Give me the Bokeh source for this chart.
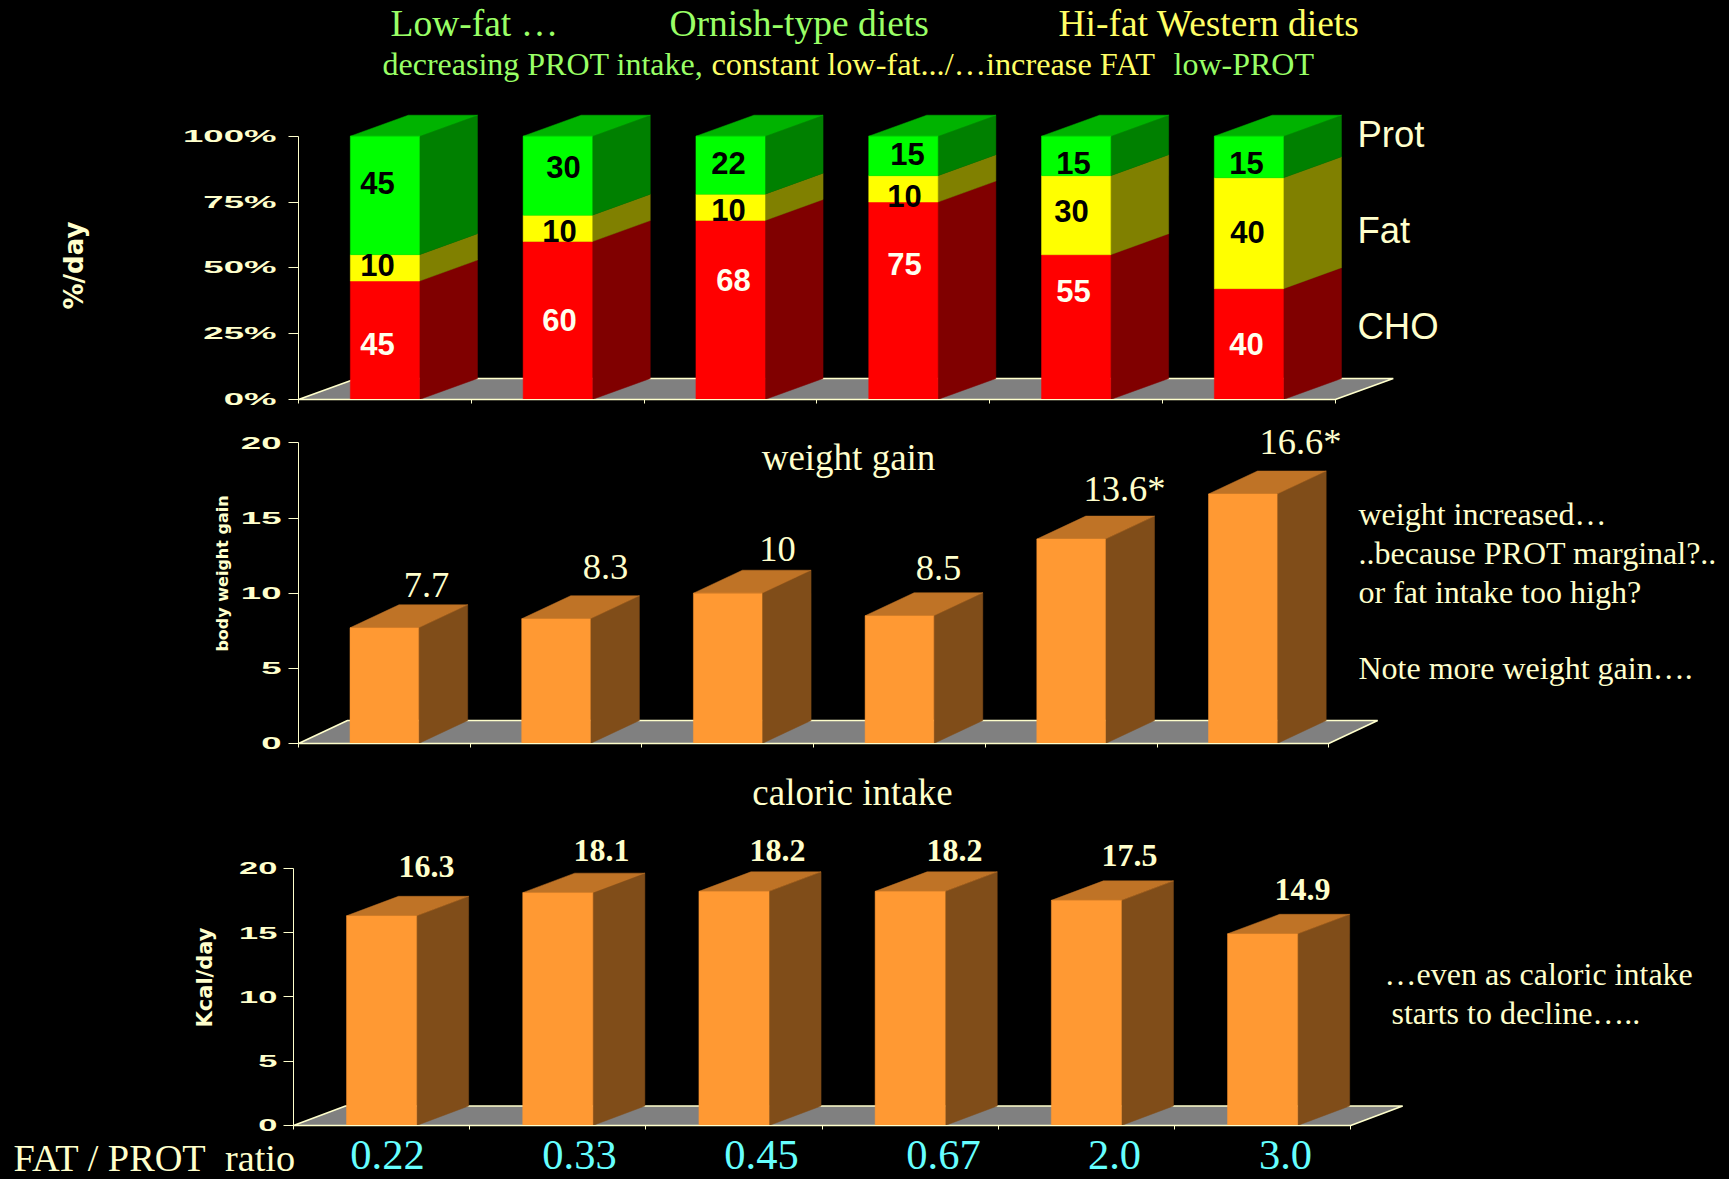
import re
from math import pi

from bokeh.document import Document
from bokeh.embed import file_html
from bokeh.layouts import column
from bokeh.models import CustomJS, FixedTicker, Label, Range1d
from bokeh.plotting import figure
from bokeh.resources import INLINE

# Diet composition, % of energy
cho = [45, 60, 68, 75, 55, 40]
fat = [10, 10, 10, 10, 30, 40]
prot = [45, 30, 22, 15, 15, 15]

# Outcomes per diet group
weight_gain = [7.7, 8.3, 10, 8.5, 13.6, 16.6]
weight_notes = ["7.7", "8.3", "10", "8.5", "13.6*", "16.6*"]
caloric_intake = [16.3, 18.1, 18.2, 18.2, 17.5, 14.9]
caloric_notes = ["16.3", "18.1", "18.2", "18.2", "17.5", "14.9"]

ratio_labels = ["0.22", "0.33", "0.45", "0.67", "2.0", "3.0"]
percent_ticks = [0, 25, 50, 75, 100]
count_ticks = [0, 5, 10, 15, 20]

PAGE_W = 1729
CREAM = "#ffffcc"
GREEN_TEXT = "#99ff66"
YELLOW_TEXT = "#ffff66"
CYAN = "#66ffff"
FLOOR = "#808080"
ORANGE = ("#ff9933", "#804d19", "#bf7326")
RED = ("#ff0000", "#800000", "#bf0000")
YELLOW = ("#ffff00", "#808000", "#bfbf00")
GREEN = ("#00ff00", "#008000", "#00b300")
SERIF = "Liberation Serif"
SANS = "Liberation Sans"
WIDE = "DejaVu Sans"


class Panel:
    """One chart row: a 3-D look column chart sharing the page's pixel grid.

    The plotting frame fills the whole figure, and the axes sit inside it at
    data zero, so that texts anywhere in the row stay visible.
    """

    def __init__(self, top, height, left, baseline, slot_px, unit_px, y_ticks,
                 depth_x, depth_y, bar_width, overrides=None, tick_size=17,
                 standoff=10):
        self.bottom = top + height
        self.dx = depth_x / slot_px
        self.dy = depth_y / unit_px
        self.bar_width = bar_width
        p = figure(
            width=PAGE_W, height=height, output_backend="svg", toolbar_location=None,
            x_range=Range1d(-left / slot_px, (PAGE_W - left) / slot_px),
            y_range=Range1d((baseline - self.bottom) / unit_px, (baseline - top) / unit_px),
            background_fill_color=None, border_fill_color=None,
            min_border_left=0, min_border_right=0, min_border_top=0, min_border_bottom=0,
            styles={"background-color": "#000000"},
        )
        p.outline_line_color = None
        p.grid.visible = False
        ax = p.yaxis[0]
        ax.fixed_location = 0
        ax.ticker = FixedTicker(ticks=y_ticks)
        ax.bounds = (y_ticks[0], y_ticks[-1])
        ax.axis_line_color = CREAM
        ax.major_tick_line_color = CREAM
        ax.minor_tick_line_color = None
        ax.major_tick_in = 0
        ax.major_tick_out = 10
        ax.major_label_standoff = standoff
        ax.major_label_text_color = CREAM
        ax.major_label_text_font = SANS
        ax.major_label_text_font_style = "bold"
        ax.major_label_text_font_size = f"{tick_size}px"
        if overrides:
            ax.major_label_overrides = overrides
        bx = p.xaxis[0]
        bx.fixed_location = 0
        bx.ticker = FixedTicker(ticks=list(range(7)))
        bx.bounds = (0, 6)
        bx.axis_line_color = CREAM
        bx.major_tick_line_color = CREAM
        bx.minor_tick_line_color = None
        bx.major_tick_in = 0
        bx.major_tick_out = 4
        bx.major_label_overrides = {t: "" for t in range(7)}
        self.p = p
        self.floor()

    def floor(self):
        xs = [0, 6, 6 + self.dx, self.dx]
        ys = [0, 0, self.dy, self.dy]
        self.p.patch(xs, ys, fill_color=FLOOR, line_color=CREAM, line_width=1.5)

    def segment(self, i, low, high, palette, is_top):
        x0 = i + 0.5 - self.bar_width / 2
        x1 = i + 0.5 + self.bar_width / 2
        front, side, lid = palette
        self.p.patch([x1, x1 + self.dx, x1 + self.dx, x1],
                     [low, low + self.dy, high + self.dy, high],
                     fill_color=side, line_color=side, line_width=0.5)
        if is_top:
            self.p.patch([x0, x1, x1 + self.dx, x0 + self.dx],
                         [high, high, high + self.dy, high + self.dy],
                         fill_color=lid, line_color=lid, line_width=0.5)
        self.p.quad(left=x0, right=x1, bottom=low, top=high,
                    fill_color=front, line_color=front, line_width=0.5)

    def label(self, page_x, page_y, text, size, color=CREAM, font=SERIF, bold=False,
              align="left", baseline="alphabetic", angle=0):
        # Text positions are given in page pixels
        shift = size / 3 if baseline == "alphabetic" else 0
        self.p.add_layout(Label(
            x=page_x,
            y=self.bottom - page_y + shift,
            x_units="screen", y_units="screen",
            text=text, text_color=color, text_font=font,
            text_font_size=f"{size}px",
            text_font_style="bold" if bold else "normal",
            text_align=align, text_baseline=baseline, angle=angle,
        ))


# ---- Macronutrient composition ------------------------------------------------
top = Panel(0, 420, 298, 399, 172.8, 2.633, percent_ticks, 58, 21, 0.40,
            overrides={t: f"{t}%" for t in percent_ticks}, standoff=12)
for i, parts in enumerate(zip(cho, fat, prot)):
    # Percent-stacked: every column is scaled to fill the 100% axis
    total = sum(parts)
    low = 0.0
    for j, (part, palette) in enumerate(zip(parts, (RED, YELLOW, GREEN))):
        high = low + part / total * 100
        top.segment(i, low, high, palette, j == 2)
        low = high

prot_spots = [(377, 182), (563, 166), (728, 162), (907, 153), (1073, 162), (1246, 162)]
fat_spots = [(377, 264), (559, 230), (728, 209), (904, 195), (1071, 210), (1247, 231)]
cho_spots = [(377, 343), (559, 319), (733, 279), (904, 263), (1073, 290), (1246, 343)]
for values, spots, color in ((prot, prot_spots, "black"), (fat, fat_spots, "black"),
                             (cho, cho_spots, "#ffffee")):
    for v, (sx, sy) in zip(values, spots):
        top.label(sx, sy, str(v), 31, color=color, font=SANS, bold=True,
                  align="center", baseline="middle")

for text, x, y in (("Prot", 1357, 146), ("Fat", 1357, 242), ("CHO", 1357, 338)):
    top.label(x, y, text, 36.5, font=SANS)

top.label(390, 35, "Low-fat …", 37.5, color=GREEN_TEXT)
top.label(669, 35, "Ornish-type diets", 37.5, color=GREEN_TEXT)
top.label(1058, 35, "Hi-fat Western diets", 37.5, color=YELLOW_TEXT)
top.label(382, 74, "decreasing PROT intake,", 32, color=GREEN_TEXT)
top.label(711, 74, "constant low-fat.../…increase FAT", 32.3, color=YELLOW_TEXT)
top.label(1173, 74, "low-PROT", 32, color=GREEN_TEXT)
top.label(73, 265, "%/day", 26, font=WIDE, bold=True, align="center",
          baseline="middle", angle=pi / 2)

# ---- Body weight gain ---------------------------------------------------------
mid = Panel(420, 343, 298, 743, 171.7, 15.03, count_ticks, 49, 23, 0.40, standoff=7)
for i, v in enumerate(weight_gain):
    mid.segment(i, 0, v, ORANGE, True)
note_spots = [(426, 597), (605, 579), (777, 561), (938, 580), (1124, 500), (1300, 453)]
for text, (sx, sy) in zip(weight_notes, note_spots):
    mid.label(sx, sy, text, 36.5, align="center")
mid.label(848, 469, "weight gain", 37, align="center")
mid.label(1358, 524, "weight increased…", 32)
mid.label(1358, 563, "..because PROT marginal?..", 32)
mid.label(1358, 602, "or fat intake too high?", 32)
mid.label(1358, 678, "Note more weight gain….", 32)
mid.label(222, 573, "body weight gain", 16, font=WIDE, bold=True, align="center",
          baseline="middle", angle=pi / 2)

# ---- Caloric intake -----------------------------------------------------------
low_panel = Panel(763, 416, 293, 1125, 176.2, 12.865, count_ticks, 52, 19.5, 0.398,
                  tick_size=16, standoff=6)
for i, v in enumerate(caloric_intake):
    low_panel.segment(i, 0, v, ORANGE, True)
intake_spots = [(426, 877), (601, 861), (777, 861), (954, 861), (1129, 866), (1302, 900)]
for text, (sx, sy) in zip(caloric_notes, intake_spots):
    low_panel.label(sx, sy, text, 32, bold=True, align="center")
low_panel.label(852, 804, "caloric intake", 37, align="center")
low_panel.label(1384, 984, "…even as caloric intake", 32)
low_panel.label(1391, 1023, "starts to decline…..", 32)
low_panel.label(204, 977, "Kcal/day", 21, font=WIDE, bold=True, align="center",
                baseline="middle", angle=pi / 2)

low_panel.label(13, 1170, "FAT / PROT\u00a0\u00a0ratio", 38.3)
ratio_spots = [387, 579, 761, 943, 1114, 1285]
for text, sx in zip(ratio_labels, ratio_spots):
    low_panel.label(sx, 1169, text, 42.5, color=CYAN, align="center")

page = column(top.p, mid.p, low_panel.p, spacing=0)

# The value-axis labels are set in a horizontally extended face
stretch_ticks = CustomJS(code="""
function walk(root) {
  root.querySelectorAll('*').forEach(el => {
    if (el.shadowRoot) walk(el.shadowRoot);
    if (el.tagName === 'text' && /^\\d+%?$/.test(el.textContent)
        && ['17px', '16px'].includes(el.getAttribute('font-size'))) {
      const b = el.getBBox();
      const r = b.x + b.width;
      const prior = el.getAttribute('transform') || '';
      el.setAttribute('transform', `${prior} translate(${r} 0) scale(2.15 1) translate(${-r} 0)`);
    }
  });
}
setTimeout(() => walk(document), 50);
""")

doc = Document()
doc.add_root(page)
doc.js_on_event("document_ready", stretch_ticks)
html = file_html(doc, INLINE)
html = re.sub(r"</head>", "<style>html,body{background:#000 !important;margin:0}</style></head>", html, count=1)
open("out.html", "w").write(html)
